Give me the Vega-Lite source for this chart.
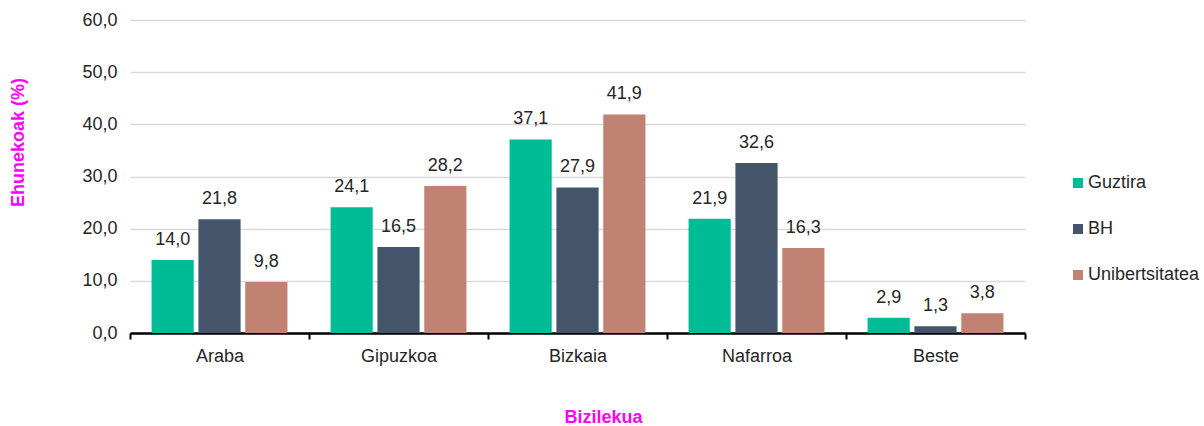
{
  "$schema": "https://vega.github.io/schema/vega-lite/v6.json",
  "width": 895,
  "height": 313,
  "autosize": {"type": "none"},
  "padding": {"left": 130, "top": 20, "right": 179, "bottom": 93},
  "background": "white",
  "config": {
    "locale": {"number": {"decimal": ",", "thousands": ".", "grouping": [3], "currency": ["", " €"]}},
    "font": "Liberation Sans",
    "view": {"stroke": null}
  },
  "data": {
    "values": [
      {"region": "Araba", "group": "Guztira", "value": 14.0},
      {"region": "Araba", "group": "BH", "value": 21.8},
      {"region": "Araba", "group": "Unibertsitatea", "value": 9.8},
      {"region": "Gipuzkoa", "group": "Guztira", "value": 24.1},
      {"region": "Gipuzkoa", "group": "BH", "value": 16.5},
      {"region": "Gipuzkoa", "group": "Unibertsitatea", "value": 28.2},
      {"region": "Bizkaia", "group": "Guztira", "value": 37.1},
      {"region": "Bizkaia", "group": "BH", "value": 27.9},
      {"region": "Bizkaia", "group": "Unibertsitatea", "value": 41.9},
      {"region": "Nafarroa", "group": "Guztira", "value": 21.9},
      {"region": "Nafarroa", "group": "BH", "value": 32.6},
      {"region": "Nafarroa", "group": "Unibertsitatea", "value": 16.3},
      {"region": "Beste", "group": "Guztira", "value": 2.9},
      {"region": "Beste", "group": "BH", "value": 1.3},
      {"region": "Beste", "group": "Unibertsitatea", "value": 3.8}
    ]
  },
  "encoding": {
    "x": {
      "field": "region",
      "type": "nominal",
      "sort": ["Araba", "Gipuzkoa", "Bizkaia", "Nafarroa", "Beste"],
      "scale": {"paddingInner": 0, "paddingOuter": 0},
      "axis": {
        "title": "Bizilekua",
        "titleColor": "#FF00FF",
        "titleFontSize": 18,
        "titleFontWeight": "bold",
        "titleX": 473,
        "titleY": 89,
        "titleBaseline": "alphabetic",
        "labelAngle": 0,
        "labelFontSize": 18,
        "labelColor": "#262626",
        "labelPadding": 8,
        "domainColor": "#000000",
        "domainWidth": 2.5,
        "tickColor": "#000000",
        "tickWidth": 2,
        "tickSize": 6,
        "tickBand": "extent",
        "grid": false
      }
    },
    "xOffset": {
      "field": "group",
      "type": "nominal",
      "sort": ["Guztira", "BH", "Unibertsitatea"],
      "scale": {"paddingInner": 0.1, "paddingOuter": 0.46}
    },
    "y": {
      "field": "value",
      "type": "quantitative",
      "scale": {"domain": [0, 60], "nice": false},
      "axis": {
        "title": "Ehunekoak (%)",
        "titleColor": "#FF00FF",
        "titleFontSize": 18,
        "titleFontWeight": "bold",
        "titleAngle": 270,
        "titleBaseline": "middle",
        "titleX": -112,
        "titleY": 122,
        "values": [0, 10, 20, 30, 40, 50, 60],
        "format": ".1f",
        "labelFontSize": 18,
        "labelColor": "#262626",
        "labelPadding": 13,
        "ticks": false,
        "domain": false,
        "gridColor": "#D9D9D9",
        "gridWidth": 1.5
      }
    }
  },
  "layer": [
    {
      "mark": {"type": "bar"},
      "encoding": {
        "color": {
          "field": "group",
          "type": "nominal",
          "sort": ["Guztira", "BH", "Unibertsitatea"],
          "scale": {"domain": ["Guztira", "BH", "Unibertsitatea"], "range": ["#00BC96", "#44546A", "#C08272"]},
          "legend": {
            "title": null,
            "orient": "none",
            "legendX": 939,
            "legendY": 154,
            "symbolType": "square",
            "symbolSize": 100,
            "symbolStrokeWidth": 0,
            "labelFontSize": 18,
            "labelColor": "#262626",
            "labelOffset": 1,
            "rowPadding": 28
          }
        }
      }
    },
    {
      "mark": {"type": "text", "baseline": "alphabetic", "dy": -15, "fontSize": 18, "color": "#262626"},
      "encoding": {
        "text": {"field": "value", "type": "quantitative", "format": ".1f"}
      }
    }
  ]
}
